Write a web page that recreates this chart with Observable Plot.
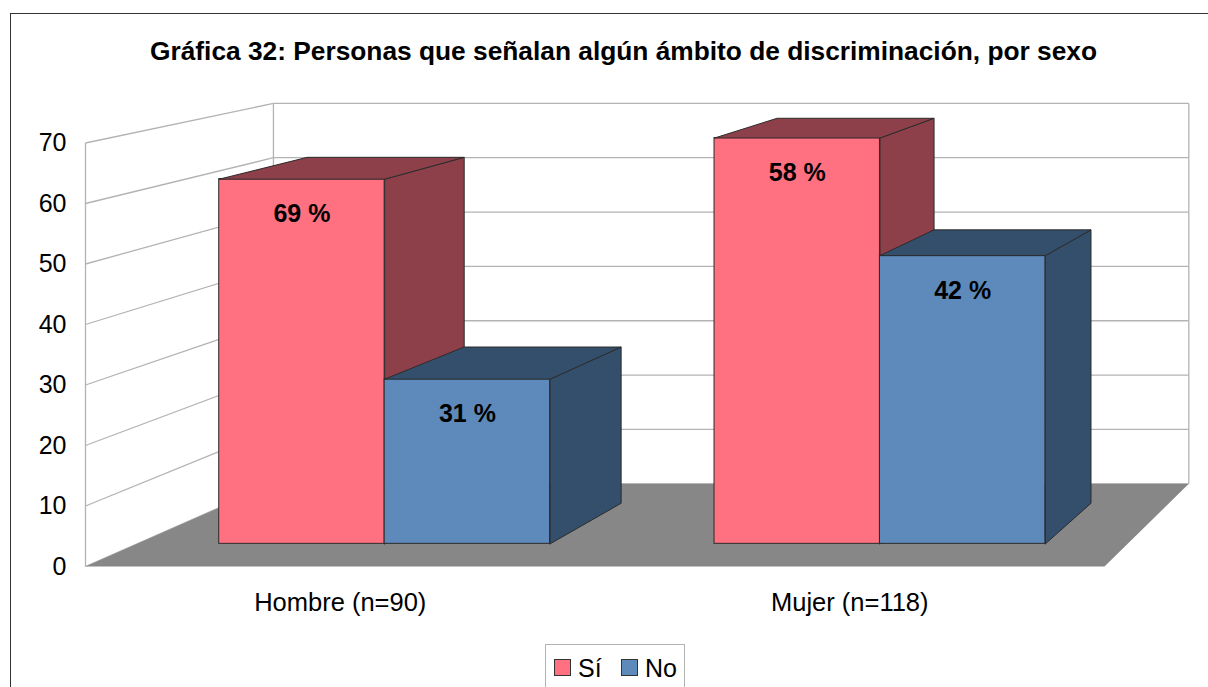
<!DOCTYPE html>
<html>
<head>
<meta charset="utf-8">
<script src="https://cdn.jsdelivr.net/npm/d3@7"></script>
<script src="https://cdn.jsdelivr.net/npm/@observablehq/plot@0.6"></script>
<style>
html, body { margin: 0; padding: 0; overflow: hidden; background: #fff; font-family: "Liberation Sans", Arial, sans-serif; color: #000; }
#frame { position: absolute; left: 10px; top: 13px; width: 1400px; height: 760px; border: 1px solid #333; z-index: 10; pointer-events: none; }
#title { position: relative; height: 85px; }
#title span { position: absolute; left: 623.5px; top: 38px; transform: translateX(-50%); font-weight: bold; font-size: 26.3px; line-height: 1; white-space: nowrap; }
#chart { height: 560px; }
#chart svg { display: block; }
#legend { position: relative; height: 60px; }
#legendbox { position: absolute; left: 545px; top: -1px; width: 140px; height: 80px; border: 1px solid #b3b3b3; box-sizing: border-box; }
.sw { position: absolute; top: 14px; width: 15px; height: 15px; border: 1px solid #333; }
.lt { position: absolute; top: 10.5px; font-size: 25px; line-height: 1; white-space: nowrap; }
</style>
</head>
<body>
<div id="frame"></div>
<div id="title"><span>Gráfica 32: Personas que señalan algún ámbito de discriminación, por sexo</span></div>
<div id="chart"></div>
<div id="legend"><div id="legendbox"></div></div>
<script>
// ---- data ----
const categories = ["Hombre (n=90)", "Mujer (n=118)"];
const seriesNames = ["Sí", "No"];
const siValues = [62, 69];      // counts (bar heights)
const noValues = [28, 49];
const siPercent = [69, 58];     // labels
const noPercent = [31, 42];
const yTicks = [0, 10, 20, 30, 40, 50, 60, 70];
const frontColors = ["#ff7080", "#5d8aba"];
const darkColors = ["#8e404a", "#344f6c"];

// ---- 3D perspective (data units) ----
const VP = {x: 3.627, y: 134.4};
const SHRINK = 0.1017;
const proj = (x, v, u) => { const s = 1 - SHRINK * u; return {x: VP.x + (x - VP.x) * s, y: VP.y + (v - VP.y) * s}; };
const BAR_U0 = 0.274, BAR_U1 = 0.765, BAR_W = 0.334;
const NCAT = categories.length;
const YMAX = d3.max(yTicks);

const bars = [];
categories.forEach((c, i) => {
  seriesNames.forEach((s, j) => {
    const v = j === 0 ? siValues[i] : noValues[i];
    const pct = j === 0 ? siPercent[i] : noPercent[i];
    const x0 = i + 0.5 + (j - 1) * BAR_W, x1 = x0 + BAR_W;
    bars.push({category: c, series: s, j, value: v, pct, x0, x1});
  });
});

const faces = [];
bars.forEach((b, k) => {
  const side = [proj(b.x1, 0, BAR_U0), proj(b.x1, b.value, BAR_U0), proj(b.x1, b.value, BAR_U1), proj(b.x1, 0, BAR_U1)];
  const top = [proj(b.x0, b.value, BAR_U0), proj(b.x1, b.value, BAR_U0), proj(b.x1, b.value, BAR_U1), proj(b.x0, b.value, BAR_U1)];
  [side, top].forEach((poly, f) => {
    [...poly, poly[0]].forEach(p => faces.push({id: `${k}-${f}`, series: b.series, x: p.x, y: p.y, color: darkColors[b.j]}));
  });
});

const gridLinks = [];
yTicks.forEach(t => {
  gridLinks.push({a: proj(0, t, 0), b: proj(0, t, 1)});
  gridLinks.push({a: proj(0, t, 1), b: proj(NCAT, t, 1)});
});
gridLinks.push({a: proj(0, 0, 0), b: proj(0, YMAX, 0)});
gridLinks.push({a: proj(0, 0, 1), b: proj(0, YMAX, 1)});
gridLinks.push({a: proj(NCAT, 0, 1), b: proj(NCAT, YMAX, 1)});

const floor = [proj(0, 0, 0), proj(NCAT, 0, 0), proj(NCAT, 0, 1), proj(0, 0, 1), proj(0, 0, 0)].map(p => ({...p, id: "floor"}));

const marks = [
  Plot.link(gridLinks, {x1: d => d.a.x, y1: d => d.a.y, x2: d => d.b.x, y2: d => d.b.y, stroke: "#b3b3b3", strokeWidth: 1.3}),
  Plot.line(floor, {x: "x", y: "y", z: "id", fill: "#878787", stroke: "none"}),
];
seriesNames.forEach((s, j) => {
  const sb = bars.filter(b => b.series === s);
  marks.push(Plot.rect(sb, {
    x1: d => proj(d.x0, 0, BAR_U0).x, x2: d => proj(d.x1, 0, BAR_U0).x,
    y1: d => proj(d.x0, 0, BAR_U0).y, y2: d => proj(d.x0, d.value, BAR_U0).y,
    fill: frontColors[j], stroke: "#2b2b2b", strokeWidth: 1
  }));
  marks.push(Plot.line(faces.filter(f => f.series === s), {x: "x", y: "y", z: "id", fill: "color", stroke: "#2b2b2b", strokeWidth: 1, strokeLinejoin: "miter"}));
});
marks.push(Plot.text(bars, {
  x: d => proj((d.x0 + d.x1) / 2, d.value, BAR_U0).x,
  y: d => proj((d.x0 + d.x1) / 2, d.value, BAR_U0).y,
  text: d => `${d.pct} %`, dy: 35, fontSize: 25, fontWeight: "bold", fill: "#000", lineAnchor: "middle"
}));
marks.push(Plot.axisY(yTicks, {tickSize: 0, tickPadding: 19, fontSize: 25, label: null, fill: "#000"}));
marks.push(Plot.text(categories, {
  x: (d, i) => proj(i + 0.5, 0, 0).x, y: (d, i) => proj(i + 0.5, 0, 0).y,
  text: d => d, dy: 36, fontSize: 25.5, fill: "#000", lineAnchor: "middle"
}));

const chart = Plot.plot({
  width: 1208,
  height: 560,
  marginLeft: 85,
  marginRight: 104,
  marginTop: 57.5,
  marginBottom: 79,
  x: {domain: [0, NCAT], axis: null},
  y: {domain: [0, YMAX], axis: null},
  color: {type: "identity"},
  style: {fontFamily: "'Liberation Sans', Arial, sans-serif", fontSize: "25px", background: "transparent", overflow: "visible"},
  marks
});
document.getElementById("chart").appendChild(chart);

// legend
const lb = document.getElementById("legendbox");
const legendPos = [{sw: 8, tx: 32}, {sw: 75, tx: 99}];
seriesNames.forEach((s, j) => {
  const sw = document.createElement("div");
  sw.className = "sw"; sw.style.left = legendPos[j].sw + "px"; sw.style.background = frontColors[j];
  sw.style.top = "14px";
  lb.appendChild(sw);
  const t = document.createElement("div");
  t.className = "lt"; t.style.left = legendPos[j].tx + "px"; t.textContent = s;
  lb.appendChild(t);
});
</script>
</body>
</html>
